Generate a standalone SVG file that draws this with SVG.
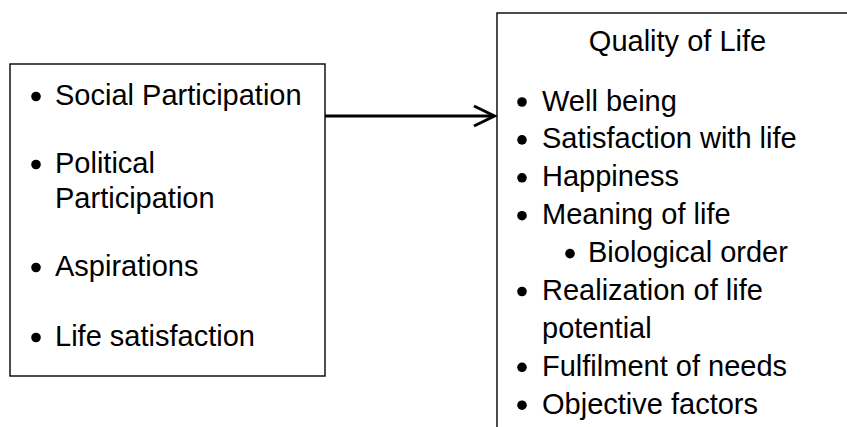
<svg xmlns="http://www.w3.org/2000/svg" width="847" height="427" viewBox="0 0 847 427">
<style>
.box{fill:#fff;stroke:#000;stroke-width:1.4}
text{font-family:"Liberation Sans",Arial,sans-serif;font-size:29px;fill:#000}
.dot{fill:#000}
.conn{fill:none;stroke:#000;stroke-width:3}
</style>
<rect width="847" height="427" fill="#fff"/>
<g id="left">
<rect class="box" x="10" y="64" width="315" height="312"/>
<circle class="dot" cx="36" cy="96.5" r="4.8"/>
<text x="55" y="105">Social Participation</text>
<circle class="dot" cx="36" cy="164.5" r="4.8"/>
<text x="55" y="173">Political</text>
<text x="55" y="208">Participation</text>
<circle class="dot" cx="36" cy="267.5" r="4.8"/>
<text x="55" y="276">Aspirations</text>
<circle class="dot" cx="36" cy="337.5" r="4.8"/>
<text x="55" y="346">Life satisfaction</text>
</g>
<g id="right">
<rect class="box" x="497" y="13" width="360" height="430"/>
<text x="677.5" y="50.5" text-anchor="middle">Quality of Life</text>
<circle class="dot" cx="522" cy="102" r="4.8"/>
<text x="542" y="110.5">Well being</text>
<circle class="dot" cx="522" cy="139.9" r="4.8"/>
<text x="542" y="148.4">Satisfaction with life</text>
<circle class="dot" cx="522" cy="177.8" r="4.8"/>
<text x="542" y="186.3">Happiness</text>
<circle class="dot" cx="522" cy="215.7" r="4.8"/>
<text x="542" y="224.2">Meaning of life</text>
<circle class="dot" cx="570" cy="253.6" r="4.8"/>
<text x="588" y="262.1">Biological order</text>
<circle class="dot" cx="522" cy="291.5" r="4.8"/>
<text x="542" y="300">Realization of life</text>
<text x="542" y="337.9">potential</text>
<circle class="dot" cx="522" cy="367.3" r="4.8"/>
<text x="542" y="375.8">Fulfilment of needs</text>
<circle class="dot" cx="522" cy="405.2" r="4.8"/>
<text x="542" y="413.7">Objective factors</text>
</g>
<g id="connectors">
<line class="conn" x1="325" y1="116" x2="494" y2="116"/>
<polyline class="conn" points="474,106 494.5,116 474,126"/>
</g>
</svg>
